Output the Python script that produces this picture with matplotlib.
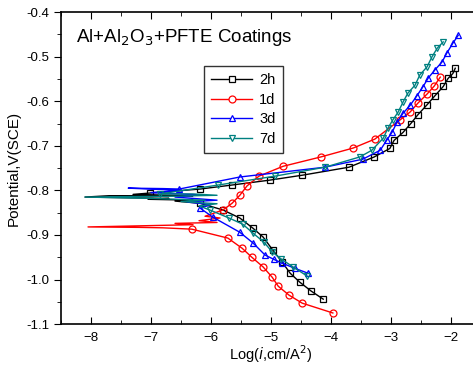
import matplotlib
matplotlib.use("Agg")
import matplotlib.pyplot as plt
from matplotlib.ticker import MultipleLocator

plt.rcParams['font.family'] = ['Liberation Sans', 'DejaVu Sans']

labels = ['2h', '1d', '3d', '7d']
colors = ['black', 'red', 'blue', '#008080']
markers = ['s', 'o', '^', 'v']

# cathodic branch (from the low end up to Ecorr), log(i) and potential
cat_x = [
    [-4.13, -4.33, -4.52, -4.68, -4.82, -4.97, -5.13, -5.30, -5.52, -5.80, -6.18],
    [-3.97, -4.48, -4.70, -4.88, -4.98, -5.13, -5.32, -5.48, -5.72, -6.32],
    [-4.38, -4.60, -4.82, -4.95, -5.10, -5.30, -5.52, -5.97, -6.18],
    [-4.40, -4.63, -4.83, -4.98, -5.12, -5.30, -5.47, -5.70, -6.02],
]
cat_y = [
    [-1.044, -1.026, -1.006, -0.986, -0.960, -0.934, -0.905, -0.885, -0.862, -0.844, -0.829],
    [-1.075, -1.053, -1.035, -1.015, -0.995, -0.972, -0.950, -0.930, -0.907, -0.887],
    [-0.986, -0.975, -0.963, -0.955, -0.945, -0.918, -0.894, -0.860, -0.840],
    [-0.992, -0.972, -0.954, -0.938, -0.916, -0.896, -0.876, -0.862, -0.844],
]

# noisy part of the scan around the corrosion potential
ecorr_x = [
    [-6.6, -6.3, -7.05, -6.7, -8.1, -7.7, -6.3, -7.3],
    [-6.8, -7.2, -8.05, -7.0, -6.3, -6.6, -5.9, -6.2, -5.85, -6.1],
    [-6.0, -6.4, -5.9, -6.6, -6.2, -7.0, -6.5, -7.38, -6.8],
    [-6.2, -5.9, -6.5, -6.1, -7.0, -8.1, -6.6, -5.9, -6.3],
]
ecorr_y = [
    [-0.824, -0.822, -0.820, -0.818, -0.815, -0.812, -0.812, -0.809],
    [-0.884, -0.883, -0.882, -0.879, -0.877, -0.874, -0.872, -0.868, -0.862, -0.858],
    [-0.832, -0.826, -0.822, -0.815, -0.810, -0.805, -0.800, -0.795, -0.796],
    [-0.835, -0.830, -0.825, -0.822, -0.818, -0.815, -0.813, -0.811, -0.808],
]

# anodic branch
ano_x = [
    [-7.02, -6.18, -5.65, -5.02, -4.48, -3.70, -3.28, -3.02, -2.95, -2.80, -2.67,
     -2.55, -2.40, -2.27, -2.13, -2.05, -1.97, -1.93],
    [-5.80, -5.65, -5.52, -5.40, -5.20, -4.80, -4.17, -3.63, -3.27, -2.85, -2.68,
     -2.55, -2.40, -2.28, -2.18],
    [-6.53, -5.52, -4.10, -3.47, -3.18, -3.07, -2.98, -2.90, -2.80, -2.68, -2.57,
     -2.47, -2.38, -2.27, -2.15, -2.07, -1.97, -1.88],
    [-6.85, -5.88, -4.93, -4.10, -3.52, -3.32, -3.13, -3.05, -2.97, -2.88, -2.80,
     -2.72, -2.60, -2.52, -2.40, -2.32, -2.23, -2.13],
]
ano_y = [
    [-0.806, -0.797, -0.788, -0.777, -0.766, -0.748, -0.725, -0.706, -0.688, -0.670,
     -0.650, -0.630, -0.608, -0.588, -0.567, -0.549, -0.538, -0.526],
    [-0.844, -0.829, -0.811, -0.790, -0.768, -0.746, -0.725, -0.705, -0.685, -0.642,
     -0.624, -0.604, -0.584, -0.566, -0.546],
    [-0.797, -0.770, -0.748, -0.730, -0.710, -0.687, -0.669, -0.647, -0.627, -0.609,
     -0.588, -0.568, -0.548, -0.530, -0.512, -0.492, -0.470, -0.452],
    [-0.808, -0.788, -0.768, -0.748, -0.725, -0.710, -0.683, -0.660, -0.642, -0.624,
     -0.602, -0.582, -0.564, -0.541, -0.523, -0.501, -0.481, -0.467],
]

fig = plt.figure(figsize=(4.73, 3.65), dpi=100)
ax = fig.add_axes([0.129, 0.112, 0.888, 0.855])

for k in range(4):
    xs = cat_x[k] + ecorr_x[k] + ano_x[k]
    ys = cat_y[k] + ecorr_y[k] + ano_y[k]
    ax.plot(xs, ys, color=colors[k], lw=1)
    ax.plot(cat_x[k] + ano_x[k], cat_y[k] + ano_y[k], ls='none', marker=markers[k],
            ms=5, mfc='none', mec=colors[k], mew=0.9)
    # legend proxy
    ax.plot([], [], color=colors[k], lw=1, marker=markers[k], ms=5,
            mfc='white', mec=colors[k], mew=0.9, label=labels[k])

ax.set_xlim(-8.5, -1.5)
ax.set_ylim(-1.1, -0.4)
ax.xaxis.set_major_locator(MultipleLocator(1))
ax.xaxis.set_minor_locator(MultipleLocator(0.5))
ax.yaxis.set_major_locator(MultipleLocator(0.1))
ax.yaxis.set_minor_locator(MultipleLocator(0.05))
ax.yaxis.set_major_formatter(matplotlib.ticker.FormatStrFormatter('%.1f'))
ax.tick_params(axis='x', which='both', direction='in', top=True, labelsize=9.5, pad=6)
ax.tick_params(axis='x', which='major', length=5)
ax.tick_params(axis='x', which='minor', length=3)
ax.tick_params(axis='y', which='both', direction='out', labelsize=9.5)
ax.tick_params(axis='y', which='major', length=5)
ax.tick_params(axis='y', which='minor', length=3)
for s in ['left', 'bottom', 'top']:
    ax.spines[s].set_linewidth(1.2)
ax.spines['right'].set_visible(False)

ax.set_xlabel('Log($\\it{i}$,cm/A$^2$)', fontsize=10.5, labelpad=-1)
ax.set_ylabel('Potential,V(SCE)', fontsize=11, labelpad=4)

ax.text(0.035, 0.92, 'Al+Al$_2$O$_3$+PFTE Coatings', transform=ax.transAxes,
        fontsize=13.5, va='center', ha='left')

leg = ax.legend(loc='upper left', bbox_to_anchor=(0.34, 0.827), borderaxespad=0,
                fontsize=10.5, frameon=True, fancybox=False, edgecolor='black',
                handlelength=2.8, handletextpad=0.5, labelspacing=0.38, borderpad=0.5)
leg.get_frame().set_linewidth(1.0)

fig.savefig('out.png', dpi=100)
